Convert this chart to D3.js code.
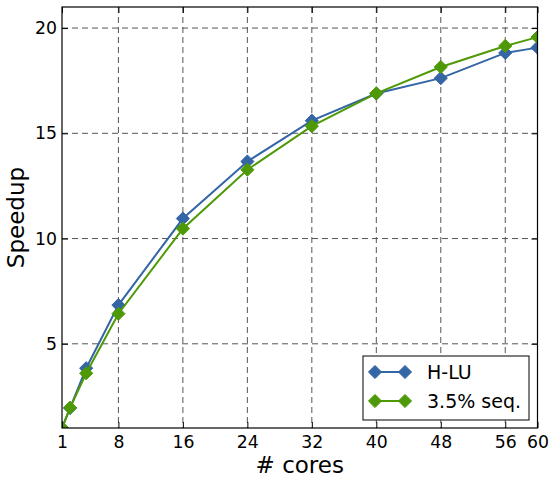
<!DOCTYPE html>
<html>
<head>
<meta charset="utf-8">
<script src="https://cdn.jsdelivr.net/npm/d3@7/dist/d3.min.js"></script>
<style>
  body { margin: 0; background: #fff; }
  svg { font-family: "DejaVu Sans", sans-serif; }
</style>
</head>
<body>
<svg id="chart" width="552" height="477"></svg>
<script>
var cores = [1, 2, 4, 8, 16, 24, 32, 40, 48, 56, 60];
var hlu = [1.0, 1.95, 3.84, 6.84, 10.95, 13.66, 15.6, 16.89, 17.62, 18.82, 19.07];
var seq = [1.0, 1.96, 3.6, 6.43, 10.47, 13.27, 15.34, 16.9, 18.15, 19.15, 19.57];
var xTicks = [1, 8, 16, 24, 32, 40, 48, 56, 60];
var yTicks = [5, 10, 15, 20];
var seriesNames = ["H-LU", "3.5% seq."];

var svg = d3.select("#chart"),
  MARGINS = { top: 7, right: 14, bottom: 49, left: 62 },
  WIDTH = 552,
  HEIGHT = 477;

var x = d3.scaleLinear().domain([1, 60]).range([MARGINS.left, WIDTH - MARGINS.right - 0.5]);
var y = d3.scaleLinear().domain([1, 21]).range([HEIGHT - MARGINS.bottom, MARGINS.top]);

var series = [
  { name: seriesNames[0], values: hlu, color: "#3465a4" },
  { name: seriesNames[1], values: seq, color: "#4e9a06" }
];

svg.append("clipPath").attr("id", "plot-clip")
  .append("rect")
  .attr("x", x(1)).attr("y", y(21))
  .attr("width", x(60) - x(1)).attr("height", y(1) - y(21));

// grid
var grid = svg.append("g").attr("stroke", "#555").attr("stroke-dasharray", "6,4").attr("stroke-width", 1);
grid.selectAll(".gx").data(xTicks.slice(1, -1)).enter().append("line")
  .attr("x1", function(d) { return x(d); }).attr("x2", function(d) { return x(d); })
  .attr("y1", y(21)).attr("y2", y(1));
grid.selectAll(".gy").data(yTicks).enter().append("line")
  .attr("y1", function(d) { return y(d); }).attr("y2", function(d) { return y(d); })
  .attr("x1", x(1)).attr("x2", x(60));

// lines + markers
var lineGen = d3.line()
  .x(function(d, i) { return x(cores[i]); })
  .y(function(d) { return y(d); });

var diamond = d3.symbol().type(d3.symbolDiamond2).size(110);

var plot = svg.append("g").attr("clip-path", "url(#plot-clip)");
series.forEach(function(s) {
  plot.append("path")
    .attr("d", lineGen(s.values))
    .attr("fill", "none")
    .attr("stroke", s.color)
    .attr("stroke-width", 2);
  plot.selectAll(null).data(s.values).enter().append("path")
    .attr("d", diamond)
    .attr("transform", function(d, i) { return "translate(" + x(cores[i]) + "," + y(d) + ")"; })
    .attr("fill", s.color)
    .attr("stroke", s.color)
    .attr("stroke-width", 1);
});

// axes (inward ticks on all four sides)
var xAxis = d3.axisBottom(x).tickValues(xTicks).tickSizeInner(-6).tickSizeOuter(0).tickPadding(8);
var yAxis = d3.axisLeft(y).tickValues(yTicks).tickSizeInner(-6).tickSizeOuter(0).tickPadding(5);

svg.append("g")
  .attr("transform", "translate(0," + y(1) + ")")
  .call(xAxis)
  .call(function(g) { g.select(".domain").remove(); })
  .selectAll("text").attr("font-size", 17.3).attr("fill", "#000").attr("font-family", "DejaVu Sans");

svg.append("g")
  .attr("transform", "translate(" + x(1) + ",0)")
  .call(yAxis)
  .call(function(g) { g.select(".domain").remove(); })
  .selectAll("text").attr("font-size", 17.3).attr("fill", "#000").attr("font-family", "DejaVu Sans");

svg.append("g")
  .attr("transform", "translate(0," + y(21) + ")")
  .call(d3.axisTop(x).tickValues(xTicks).tickSizeInner(-6).tickSizeOuter(0).tickFormat(""))
  .call(function(g) { g.select(".domain").remove(); });

svg.append("g")
  .attr("transform", "translate(" + x(60) + ",0)")
  .call(d3.axisRight(y).tickValues(yTicks).tickSizeInner(-6).tickSizeOuter(0).tickFormat(""))
  .call(function(g) { g.select(".domain").remove(); });

svg.append("rect")
  .attr("x", x(1)).attr("y", y(21))
  .attr("width", x(60) - x(1)).attr("height", y(1) - y(21))
  .attr("fill", "none").attr("stroke", "#000").attr("stroke-width", 1.2);

// axis labels
svg.append("text")
  .attr("x", (x(1) + x(60)) / 2).attr("y", 473)
  .attr("text-anchor", "middle").attr("font-size", 23)
  .text("# cores");

svg.append("text")
  .attr("transform", "translate(24," + ((y(1) + y(21)) / 2) + ") rotate(-90)")
  .attr("text-anchor", "middle").attr("font-size", 23)
  .text("Speedup");

// legend
var legend = svg.append("g").attr("transform", "translate(363,356)");
legend.append("rect")
  .attr("width", 166).attr("height", 64)
  .attr("fill", "#fff").attr("stroke", "#000").attr("stroke-width", 1);
series.forEach(function(s, i) {
  var row = legend.append("g").attr("transform", "translate(0," + (16 + i * 29) + ")");
  row.append("line").attr("x1", 12).attr("x2", 42).attr("stroke", s.color).attr("stroke-width", 2);
  [12, 42].forEach(function(px) {
    row.append("path").attr("d", diamond).attr("transform", "translate(" + px + ",0)")
      .attr("fill", s.color).attr("stroke", s.color).attr("stroke-width", 1);
  });
  row.append("text").attr("x", 64).attr("y", 7).attr("font-size", 19).text(s.name);
});
</script>
</body>
</html>
